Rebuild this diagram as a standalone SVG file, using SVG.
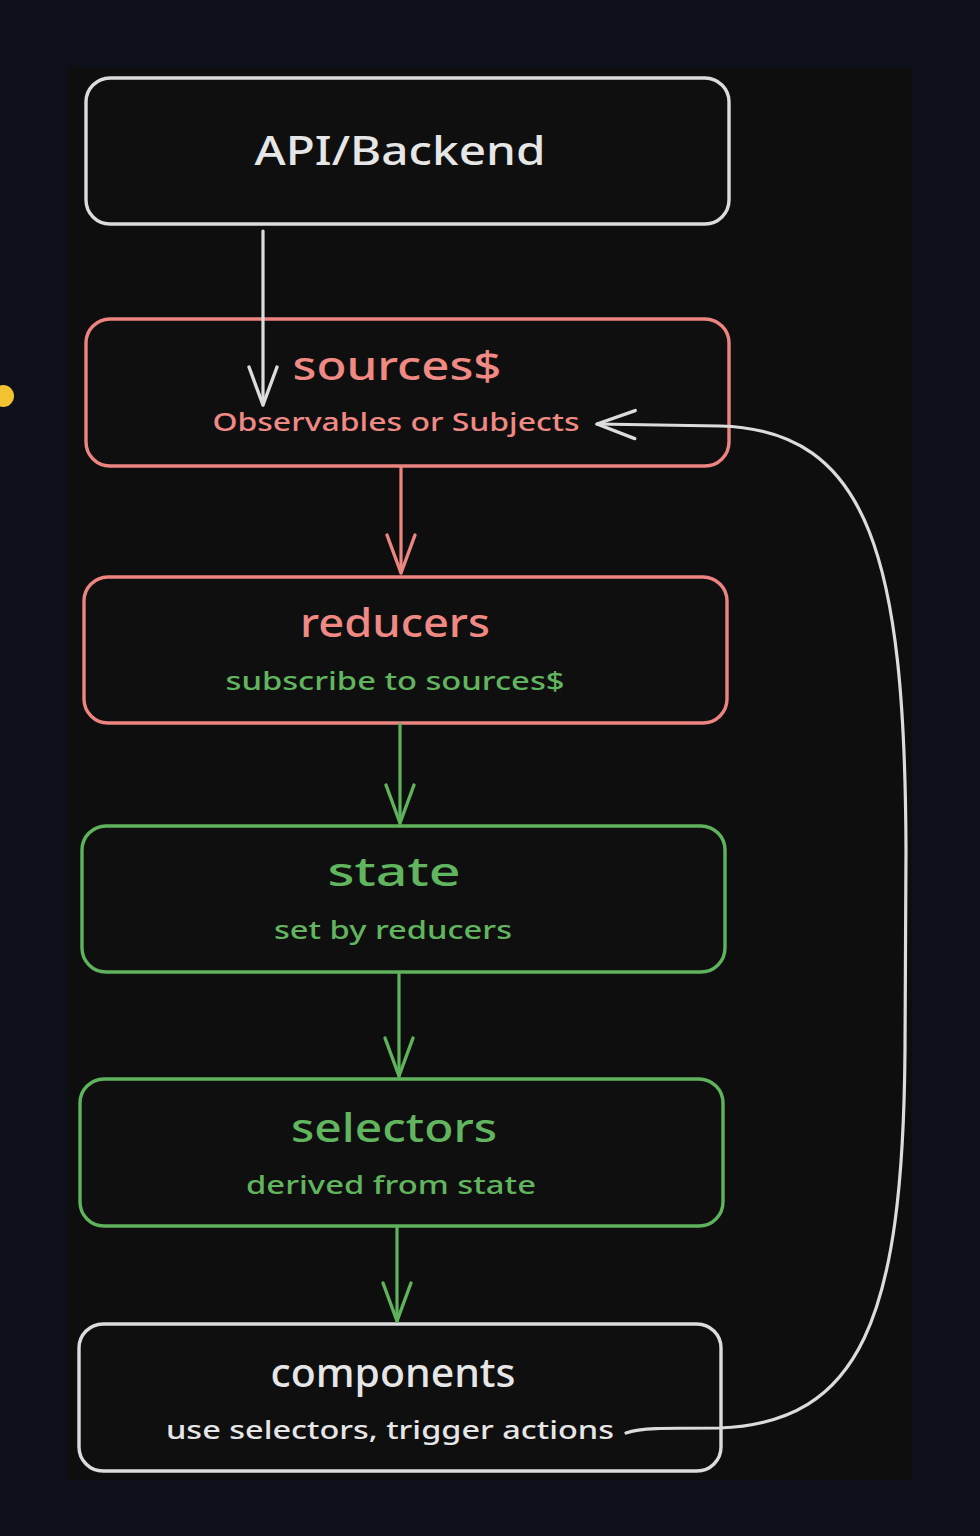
<svg xmlns="http://www.w3.org/2000/svg" width="980" height="1536" viewBox="0 0 980 1536">
<defs>
<style>
.box{fill:#0f0f0f;stroke-width:3.4}
.w{stroke:#dcdcdc}
.r{stroke:#ec8580}
.g{stroke:#5fb35c}
.t{font-family:"Noto Sans","Liberation Sans",sans-serif;text-anchor:middle;font-weight:500}
.big{font-size:40px}
.small{font-size:26px}
.fw{fill:#e6e6e6}
.fr{fill:#ef8983}
.fg{fill:#62b55f}
.con{fill:none;stroke-width:3.2;stroke-linecap:round;stroke-linejoin:round}
</style>
<marker id="aw" markerUnits="userSpaceOnUse" markerWidth="50" markerHeight="40" refX="0" refY="0" viewBox="-45 -20 50 40" orient="auto" overflow="visible">
<path d="M -38 -14 L 0 0 L -38 14" fill="none" stroke="#dcdcdc" stroke-width="3.4" stroke-linecap="round" stroke-linejoin="round"/>
</marker>
<marker id="ar" markerUnits="userSpaceOnUse" markerWidth="50" markerHeight="40" refX="0" refY="0" viewBox="-45 -20 50 40" orient="auto" overflow="visible">
<path d="M -38 -14 L 0 0 L -38 14" fill="none" stroke="#ec8580" stroke-width="3.4" stroke-linecap="round" stroke-linejoin="round"/>
</marker>
<marker id="ag" markerUnits="userSpaceOnUse" markerWidth="50" markerHeight="40" refX="0" refY="0" viewBox="-45 -20 50 40" orient="auto" overflow="visible">
<path d="M -38 -14 L 0 0 L -38 14" fill="none" stroke="#5fb35c" stroke-width="3.4" stroke-linecap="round" stroke-linejoin="round"/>
</marker>
</defs>
<rect x="0" y="0" width="980" height="1536" fill="#0e1019"/>
<rect x="68" y="68" width="844" height="1412" fill="#0e0e0e"/>
<circle cx="3" cy="396" r="11" fill="#f2c230"/>

<g id="api">
<rect class="box w" x="86" y="78" width="643" height="146" rx="24"/>
<text class="t big fw" x="400" y="165" textLength="291" lengthAdjust="spacingAndGlyphs">API/Backend</text>
</g>
<g id="sources">
<rect class="box r" x="86" y="319" width="643" height="147" rx="24"/>
<text class="t big fr" x="397" y="380" textLength="209" lengthAdjust="spacingAndGlyphs">sources$</text>
<text class="t small fr" x="396" y="431" textLength="367" lengthAdjust="spacingAndGlyphs">Observables or Subjects</text>
</g>
<g id="reducers">
<rect class="box r" x="84" y="577" width="643" height="146" rx="24"/>
<text class="t big fr" x="395" y="637" textLength="190" lengthAdjust="spacingAndGlyphs">reducers</text>
<text class="t small fg" x="395" y="690" textLength="339" lengthAdjust="spacingAndGlyphs">subscribe to sources$</text>
</g>
<g id="state">
<rect class="box g" x="82" y="826" width="643" height="146" rx="24"/>
<text class="t big fg" x="394" y="886" textLength="133" lengthAdjust="spacingAndGlyphs">state</text>
<text class="t small fg" x="393" y="939" textLength="238" lengthAdjust="spacingAndGlyphs">set by reducers</text>
</g>
<g id="selectors">
<rect class="box g" x="80" y="1079" width="643" height="147" rx="24"/>
<text class="t big fg" x="394" y="1142" textLength="206" lengthAdjust="spacingAndGlyphs">selectors</text>
<text class="t small fg" x="391" y="1194" textLength="290" lengthAdjust="spacingAndGlyphs">derived from state</text>
</g>
<g id="components">
<rect class="box w" x="79" y="1324" width="642" height="147" rx="24"/>
<text class="t big fw" x="393" y="1387" textLength="245" lengthAdjust="spacingAndGlyphs">components</text>
<text class="t small fw" x="390" y="1439" textLength="448" lengthAdjust="spacingAndGlyphs">use selectors, trigger actions</text>
</g>

<g id="connectors">
<path class="con w" d="M 263 231 L 263 405" marker-end="url(#aw)"/>
<path class="con r" d="M 401 467 L 401 573" marker-end="url(#ar)"/>
<path class="con g" d="M 400 724 L 400 823" marker-end="url(#ag)"/>
<path class="con g" d="M 399 973 L 399 1076" marker-end="url(#ag)"/>
<path class="con g" d="M 397 1227 L 397 1321" marker-end="url(#ag)"/>
<path class="con w" d="M 626 1433 C 640 1428 660 1428 720 1428 C 860 1422 903 1320 905 1050 L 906 850 C 905 560 870 430 720 426 L 597 424" marker-end="url(#aw)"/>
</g>
</svg>
